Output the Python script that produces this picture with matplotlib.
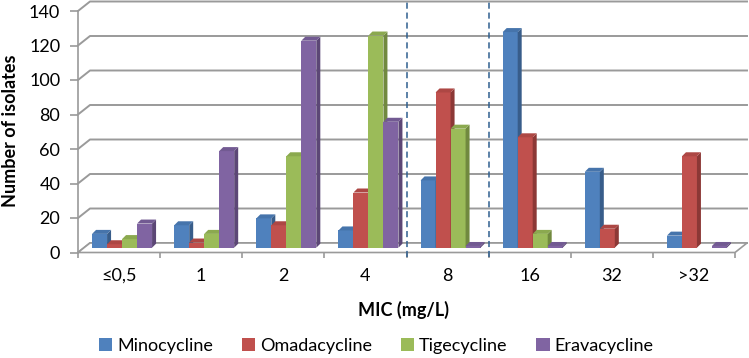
import matplotlib
matplotlib.use("Agg")
import matplotlib.pyplot as plt
from matplotlib.patches import Polygon, Patch

categories = ["≤0,5", "1", "2", "4", "8", "16", "32", ">32"]
series_names = ["Minocycline", "Omadacycline", "Tigecycline", "Eravacycline"]
minocycline = [8, 13, 17, 10, 39, 125, 44, 7]
omadacycline = [2, 3, 13, 32, 90, 64, 11, 53]
tigecycline = [5, 8, 53, 123, 69, 8, 0, 0]
eravacycline = [14, 56, 120, 73, 1, 1, 0, 1]
series_values = [minocycline, omadacycline, tigecycline, eravacycline]
yticks = [0, 20, 40, 60, 80, 100, 120, 140]

front_colors = ["#4F81BD", "#C0504D", "#9BBB59", "#8064A2"]
side_colors = ["#385D8A", "#8C3836", "#71893F", "#5C4776"]
top_colors = ["#4674AB", "#AD4744", "#8BA94F", "#725A92"]

W, H = 749, 358
fig = plt.figure(figsize=(W / 100, H / 100), dpi=100)
plt.rcParams['font.family'] = ['Lato', 'DejaVu Sans']

# axes: front y=0 at pixel 252.5, y=140 at pixel 11; x from 78 to 735
y0_px, y140_px = 252.5, 11.0
ax = fig.add_axes([78 / W, (H - y0_px) / H, 657 / W, (y0_px - y140_px) / H])
ax.set_xlim(-0.5, 7.5)
ax.set_ylim(0, 140)

pxx = 657 / 8.0          # px per category
pxy = (y0_px - y140_px) / 140.0  # px per unit
grid_c = "#9A9A9A"

# back wall / floor offsets
dxu = 12 / pxx
dyu = 9.5 / pxy
floor = Polygon([(-0.5, 0), (7.5, 0), (7.5 + dxu, dyu), (-0.5 + dxu, dyu)],
                closed=True, facecolor="white", edgecolor=grid_c, lw=1.2,
                clip_on=False, zorder=1)
ax.add_patch(floor)
for v in yticks:
    ax.plot([-0.5, -0.5 + dxu, 7.5 + dxu], [v, v + dyu, v + dyu],
            color=grid_c, lw=1.4, clip_on=False, zorder=0.5)

# bars
bw = 15 / pxx
group_left = -27 / pxx
base = 4.8 / pxy
ddx = 4 / pxx
ddy = 4 / pxy
for j, vals in enumerate(series_values):
    off = group_left + (j + 0.5) * bw
    z = 3 + j
    xs = [i + off for i in range(len(categories))]
    ax.bar(xs, vals, bw, bottom=base, color=front_colors[j], zorder=z,
           linewidth=0, clip_on=False)
    for x, v in zip(xs, vals):
        if v <= 0:
            continue
        x0, x1 = x - bw / 2, x + bw / 2
        top = base + v
        ax.add_patch(Polygon([(x1, base), (x1 + ddx, base + ddy), (x1 + ddx, top + ddy), (x1, top)],
                             closed=True, facecolor=side_colors[j], lw=0, zorder=z, clip_on=False))
        ax.add_patch(Polygon([(x0, top), (x1, top), (x1 + ddx, top + ddy), (x0 + ddx, top + ddy)],
                             closed=True, facecolor=top_colors[j], lw=0, zorder=z, clip_on=False))

# dashed separators
ax.vlines([3.5, 4.5], -2.8, 146.0, colors="#2F5F8F", linestyles=(0, (4, 2.5)),
          lw=1.1, clip_on=False, zorder=10)

# spines / ticks
for s in ["top", "right", "bottom"]:
    ax.spines[s].set_visible(False)
ax.spines["left"].set_color(grid_c)
ax.spines["left"].set_linewidth(1.2)
ax.set_yticks(yticks)
ax.tick_params(axis="y", length=5.8, width=1.2, color=grid_c, pad=7, labelsize=13, labelcolor="black")
ax.set_xticks(range(len(categories)))
ax.set_xticklabels(categories)
ax.set_xticks([i - 0.5 for i in range(len(categories) + 1)], minor=True)
ax.tick_params(axis="x", which="major", length=0, pad=11, labelsize=13)
ax.tick_params(axis="x", which="minor", length=3.6, width=1.2, color=grid_c)

fig.text(404 / W, (H - 310) / H, "MIC (mg/L)", ha="center", va="center",
         fontsize=13, fontweight="bold")
fig.text(11 / W, (H - 131) / H, "Number of isolates", ha="center", va="center",
         rotation=90, fontsize=13, fontweight="bold")

handles = [Patch(facecolor=c, edgecolor="none") for c in front_colors]
fig.legend(handles, series_names, loc="center", bbox_to_anchor=(376 / W, 12 / H),
           ncol=4, frameon=False, fontsize=13, handlelength=0.75, handleheight=0.75,
           handletextpad=0.25, columnspacing=1.6, borderaxespad=0)

fig.savefig("out.png", dpi=100)
